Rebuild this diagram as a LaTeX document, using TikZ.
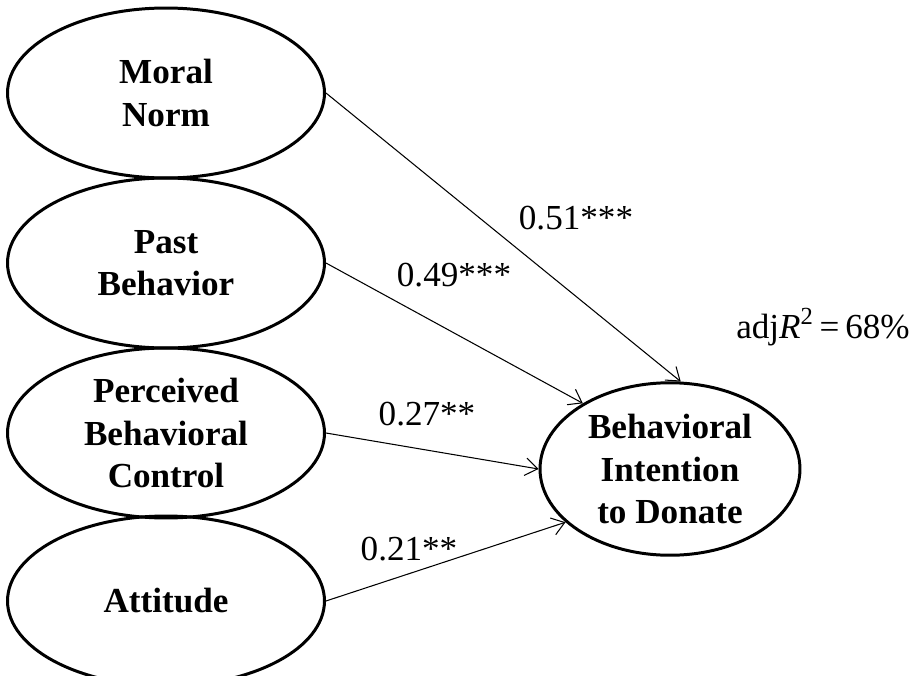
\documentclass[tikz,border=0pt]{standalone}
\usepackage{fontspec}
\setmainfont{Liberation Serif}
\usepackage{tikz}
\usetikzlibrary{shapes,arrows.meta,calc}
\tikzset{
    latent/.style = {draw, ellipse, line width=1.7pt,
        minimum width=6.34cm,
        minimum height=3.4cm,
        inner sep=0pt, align=center,
        font=\fontsize{20}{24}\selectfont\bfseries},
    path/.style = {draw, line width=0.6pt, -{Straight Barb[length=7pt,width=10pt]}},
    coef/.style = {font=\fontsize{20}{24}\selectfont}
}

\begin{document}
\begin{tikzpicture}[x=0.02cm,y=-0.02cm]
        \useasboundingbox (0,0) rectangle (917,676);
        % predictors
        \node[latent] (mn) at (166,93) {Moral\\Norm};
        \node[latent] (pb) at (166,263) {Past\\Behavior};
        \node[latent] (pbc) at (166,433) {Perceived\\Behavioral\\Control};
        \node[latent] (att) at (166,601) {Attitude};
        % outcome
        \node[latent, minimum width=5.2cm, minimum height=3.45cm] (bid) at (670,469) {Behavioral\\Intention\\to Donate};
        % paths
        \draw[path] (mn.east) -- (bid.83);
        \draw[path] (pb.east) -- (bid.143);
        \draw[path] (pbc.east) -- (bid.180);
        \draw[path] (att.east) -- (bid.207);
        \node[coef] (c1) at (576,218) {0.51***};
        \node[coef] (c2) at (454,275) {0.49***};
        \node[coef] (c3) at (427,414) {0.27**};
        \node[coef] (c4) at (409,549) {0.21**};
        \node[coef] (r2) at (823,327) {adj\textit{R}\textsuperscript{2}\,=\,68\%};
\end{tikzpicture}
\end{document}
